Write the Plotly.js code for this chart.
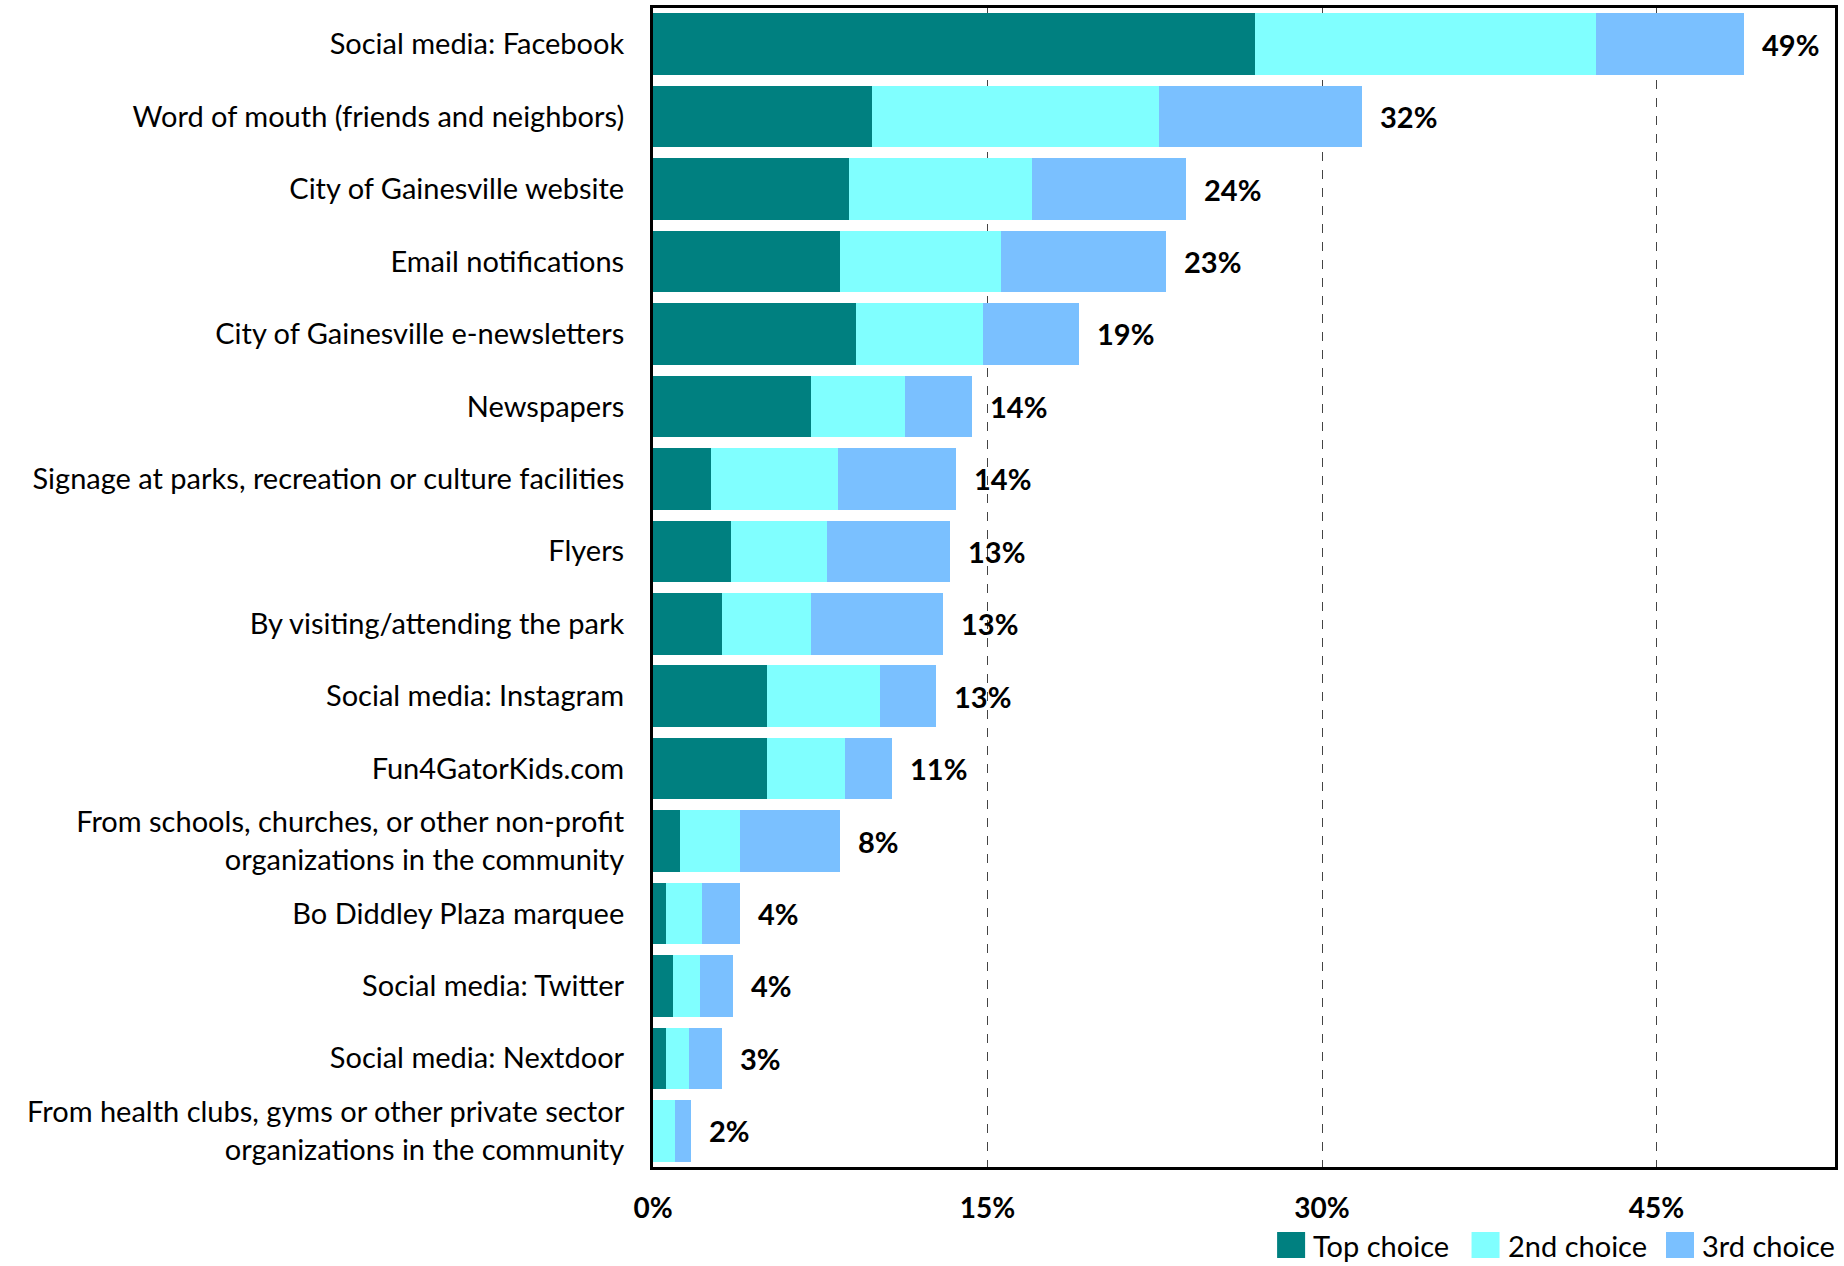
<!DOCTYPE html>
<html>
<head>
<meta charset="utf-8">
<script src="https://cdn.plot.ly/plotly-3.0.1.min.js"></script>
<style>html,body{margin:0;padding:0;background:#fff;}#chart{width:1844px;height:1266px;}</style>
</head>
<body>
<div id="chart"></div>
<script>
const categories = [
  "Social media: Facebook",
  "Word of mouth (friends and neighbors)",
  "City of Gainesville website",
  "Email notifications",
  "City of Gainesville e-newsletters",
  "Newspapers",
  "Signage at parks, recreation or culture facilities",
  "Flyers",
  "By visiting/attending the park",
  "Social media: Instagram",
  "Fun4GatorKids.com",
  "From schools, churches, or other non-profit<br>organizations in the community",
  "Bo Diddley Plaza marquee",
  "Social media: Twitter",
  "Social media: Nextdoor",
  "From health clubs, gyms or other private sector<br>organizations in the community"
];
const topChoice    = [27.0, 9.8, 8.8, 8.4, 9.1, 7.1, 2.6, 3.5, 3.1, 5.1, 5.1, 1.2, 0.6, 0.9, 0.6, 0.0];
const secondChoice = [15.3, 12.9, 8.2, 7.2, 5.7, 4.2, 5.7, 4.3, 4.0, 5.1, 3.5, 2.7, 1.6, 1.2, 1.0, 1.0];
const thirdChoice  = [6.6, 9.1, 6.9, 7.4, 4.3, 3.0, 5.3, 5.5, 5.9, 2.5, 2.1, 4.5, 1.7, 1.5, 1.5, 0.7];
const totalLabels  = ["49%", "32%", "24%", "23%", "19%", "14%", "14%", "13%", "13%", "13%", "11%", "8%", "4%", "4%", "3%", "2%"];
const seriesNames  = ["Top choice", "2nd choice", "3rd choice"];
const seriesColors = ["#008080", "#80FFFF", "#7AC0FF"];
const xTickVals = [0, 15, 30, 45];

const FONT = "Lato, 'Open Sans', sans-serif";
const series = [topChoice, secondChoice, thirdChoice];
const traces = series.map((vals, i) => ({
  type: "bar",
  orientation: "h",
  name: seriesNames[i],
  y: categories,
  x: vals,
  marker: {color: seriesColors[i], line: {width: 0}},
  showlegend: false,
  hoverinfo: "x+y+name"
}));

const totals = categories.map((c, k) => topChoice[k] + secondChoice[k] + thirdChoice[k]);
const annotations = categories.map((c, k) => ({
  x: totals[k], y: c, xref: "x", yref: "y",
  text: totalLabels[k], showarrow: false,
  xanchor: "left", xshift: 16,
  font: {family: FONT, size: 29, color: "#000", weight: "bold"}
}));

// custom legend below the plot, right side (paper coordinates)
const LEG_X0 = 0.528, LEG_STEP = 0.1645, SQ_W = 0.0237, TXT_DX = 0.0288;
const LEG_Y0 = -0.0785, LEG_Y1 = -0.0561;
const shapes = [];
seriesNames.forEach((n, i) => {
  const x0 = LEG_X0 + i * LEG_STEP;
  shapes.push({
    type: "rect", xref: "paper", yref: "paper",
    x0: x0, x1: x0 + SQ_W, y0: LEG_Y0, y1: LEG_Y1,
    fillcolor: seriesColors[i], line: {width: 0}, layer: "above"
  });
  annotations.push({
    xref: "paper", yref: "paper", x: x0 + TXT_DX, y: (LEG_Y0 + LEG_Y1) / 2,
    xanchor: "left", yanchor: "middle", showarrow: false, text: n,
    font: {family: FONT, size: 29, color: "#000"}
  });
});

const layout = {
  width: 1844, height: 1266,
  margin: {l: 653, r: 9, t: 8, b: 99, autoexpand: false},
  barmode: "stack",
  bargap: 0.15,
  paper_bgcolor: "#fff",
  plot_bgcolor: "#fff",
  showlegend: false,
  xaxis: {
    range: [0, 53],
    tickvals: xTickVals,
    ticktext: xTickVals.map(v => v + "%"),
    tickfont: {family: FONT, size: 28, color: "#000", weight: "bold"},
    showgrid: true, gridcolor: "#444", griddash: "dash", gridwidth: 1,
    zeroline: false,
    showline: true, linecolor: "#000", linewidth: 3, mirror: true,
    ticks: "", ticklabelstandoff: 14
  },
  yaxis: {
    autorange: "reversed",
    tickfont: {family: FONT, size: 29, color: "#000"},
    showgrid: false, zeroline: false,
    showline: true, linecolor: "#000", linewidth: 3, mirror: true,
    ticks: "", ticklabelstandoff: 20
  },
  shapes: shapes,
  annotations: annotations
};

Plotly.newPlot("chart", traces, layout, {displayModeBar: false, staticPlot: true});
</script>
</body>
</html>
